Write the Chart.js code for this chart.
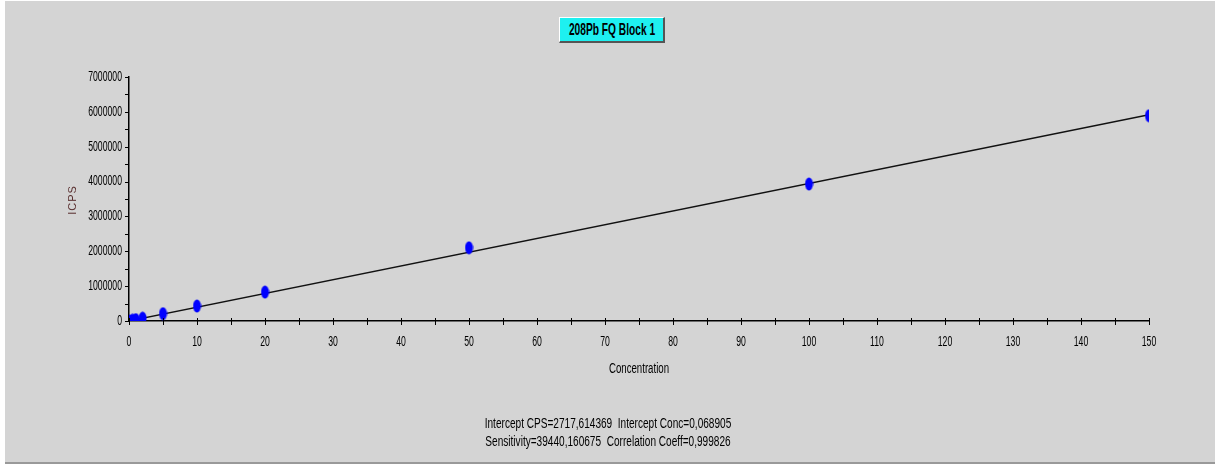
<!DOCTYPE html>
<html>
<head>
<meta charset="utf-8">
<script src="https://cdn.jsdelivr.net/npm/chart.js@4/dist/chart.umd.min.js"></script>
<style>
  html, body { margin: 0; padding: 0; background: #fff; }
  #wrap { position: absolute; left: 5px; top: 1px; width: 1210px; height: 461px; background: #d4d4d4; border-bottom: 2px solid #999; }
  #chartBox { position: absolute; left: 0; top: 0; width: 1215px; height: 466px; }
  .narrow { position: absolute; white-space: nowrap; text-align: center; color: #000; font-family: "Liberation Sans", Arial, sans-serif; }
  .narrow span { position: absolute; left: 50%; top: 0; }
  #title { left: 559px; top: 17px; width: 103px; height: 23px; background: #1ef0f0;
    border-top: 1px solid #fff; border-left: 1px solid #fff; border-right: 2px solid #555; border-bottom: 2px solid #555;
    font-weight: bold; font-size: 17px; line-height: 23px; }
  #title span { transform: translateX(-50%) scaleX(0.6); }
  #stats { left: 0; width: 1215px; top: 414px; font-size: 14px; line-height: 18px; }
  #stats span { transform: translateX(-50%) scaleX(0.72); }
  #xTitle { left: 539px; width: 200px; top: 359px; font-size: 14px; line-height: 18px; }
  #xTitle span { transform: translateX(-50%) scaleX(0.69); }
  #yTitle { left: 42px; top: 191px; width: 60px; height: 18px; font-size: 11px; line-height: 18px; color: #5a3030; letter-spacing: 1px; transform: rotate(-90deg); }
</style>
</head>
<body>
<div id="wrap"></div>
<div id="chartBox"><canvas id="myChart" width="1215" height="466"></canvas></div>
<div id="title" class="narrow"><span>208Pb FQ Block 1</span></div>
<div id="xTitle" class="narrow"><span>Concentration</span></div>
<div id="yTitle" class="narrow">ICPS</div>
<div id="stats" class="narrow"><span>Intercept CPS=2717,614369&nbsp; Intercept Conc=0,068905<br>Sensitivity=39440,160675&nbsp; Correlation Coeff=0,999826</span></div>
<script>
// calibration standards (concentration vs counts)
const concentrations = [0, 0.5, 1, 2, 5, 10, 20, 50, 100, 150];
const icps = [3000, 20000, 40000, 80000, 210000, 430000, 830000, 2100000, 3930000, 5890000];

// fitted line end points
const fitX = [0, 150];
const fitY = [2718, 5918742];

const xTicks = [0, 10, 20, 30, 40, 50, 60, 70, 80, 90, 100, 110, 120, 130, 140, 150];
const yTicks = [0, 1000000, 2000000, 3000000, 4000000, 5000000, 6000000, 7000000];

// blob marker like the original instrument software
const marker = document.createElement('canvas');
marker.width = 9;
marker.height = 14;
const mctx = marker.getContext('2d');
mctx.fillStyle = '#0000ff';
mctx.beginPath();
mctx.ellipse(4.5, 7, 4, 6.5, 0, 0, Math.PI * 2);
mctx.fill();

// narrow text, the old windows look
function narrowText(c, text, x, y, align) {
  c.save();
  c.translate(x, y);
  c.scale(0.62, 1);
  c.textAlign = align;
  c.fillText(text, 0, 0);
  c.restore();
}

// tick marks crossing the axes (minor ones too) and labels
const axisTicks = {
  id: 'axisTicks',
  afterDraw(chart) {
    const c = chart.ctx;
    const xs = chart.scales.x, ys = chart.scales.y;
    const y0 = ys.getPixelForValue(0), x0 = xs.getPixelForValue(0);
    c.save();
    c.strokeStyle = '#000';
    c.lineWidth = 1;
    c.beginPath();
    for (let v = 0; v <= 150; v += 5) {
      const px = Math.round(xs.getPixelForValue(v)) + 0.5;
      c.moveTo(px, y0 - 3);
      c.lineTo(px, y0 + 4);
    }
    for (let v = 0; v <= 7000000; v += 500000) {
      const py = Math.round(ys.getPixelForValue(v)) + 0.5;
      c.moveTo(x0 - 4, py);
      c.lineTo(x0, py);
    }
    c.stroke();

    c.fillStyle = '#000';
    c.font = '14px "Liberation Sans", Arial, sans-serif';
    c.textBaseline = 'alphabetic';
    xs.ticks.forEach(t => narrowText(c, String(t.value), xs.getPixelForValue(t.value), y0 + 25, 'center'));
    c.textBaseline = 'middle';
    ys.ticks.forEach(t => narrowText(c, String(t.value), x0 - 7, ys.getPixelForValue(t.value), 'right'));
    c.restore();
  }
};

const ctx = document.getElementById('myChart');
let myChart = new Chart(ctx, {
  type: 'scatter',
  data: {
    datasets: [{
      label: 'Fit',
      data: fitX.map((x, i) => ({ x: x, y: fitY[i] })),
      showLine: true,
      borderColor: '#111',
      borderWidth: 1.5,
      pointRadius: 0,
      order: 2
    },
    {
      label: 'Standards',
      data: concentrations.map((x, i) => ({ x: x, y: icps[i] })),
      pointStyle: marker,
      order: 1
    }]
  },
  options: {
    responsive: false,
    animation: false,
    layout: { padding: { left: 0, right: 66, top: 77, bottom: 0 } },
    plugins: {
      legend: { display: false },
      tooltip: { enabled: false }
    },
    scales: {
      x: {
        type: 'linear',
        min: 0,
        max: 150,
        afterBuildTicks: (s) => { s.ticks = xTicks.map(v => ({ value: v })); },
        afterFit: (s) => { s.height = 145; },
        grid: { display: false },
        border: { color: '#000', width: 1.5 },
        ticks: { display: false }
      },
      y: {
        type: 'linear',
        min: 0,
        max: 7000000,
        afterBuildTicks: (s) => { s.ticks = yTicks.map(v => ({ value: v })); },
        afterFit: (s) => { s.width = 129; },
        grid: { display: false },
        border: { color: '#000', width: 1.5 },
        ticks: { display: false }
      }
    }
  },
  plugins: [axisTicks]
});
</script>
</body>
</html>
